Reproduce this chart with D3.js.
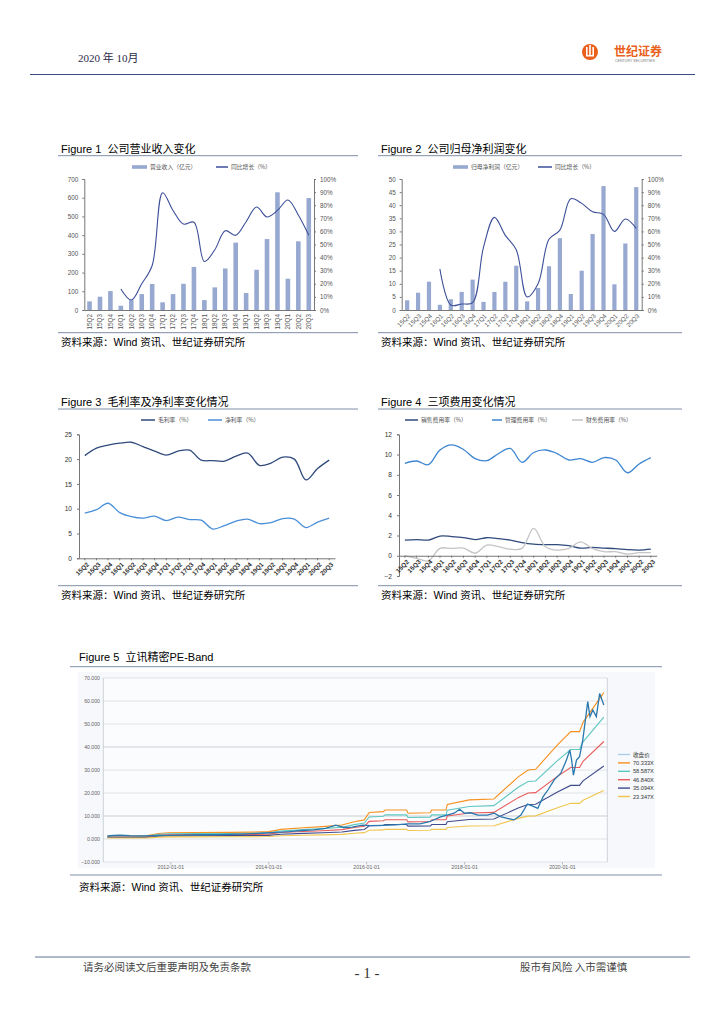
<!DOCTYPE html>
<html><head><meta charset="utf-8">
<script src="https://cdn.jsdelivr.net/npm/d3@7"></script>
<style>
body{margin:0;background:#fff;}
svg{display:block;}
text{white-space:pre;}
</style></head>
<body>
<svg id="page" width="724" height="1024"></svg>
<script>
// ---------------- DATA ----------------
const quarters = ["15Q2","15Q3","15Q4","16Q1","16Q2","16Q3","16Q4","17Q1","17Q2","17Q3","17Q4","18Q1","18Q2","18Q3","18Q4","19Q1","19Q2","19Q3","19Q4","20Q1","20Q2","20Q3"];
const revenue = [46,71,101,23,52,85,139,41,85,140,230,53,121,222,360,91,215,379,629,167,367,598];
const revenueYoY = [null,null,null,16,7.6,20,34,89.5,76,65.6,67,37,46,60.5,57,67.4,78.6,71,76,84,72.5,57];
const netProfit = [3.7,6.6,10.8,2.0,4.1,6.9,11.6,3.1,6.9,10.8,16.9,3.3,8.4,16.7,27.4,6.1,15.0,29.0,47.3,9.8,25.4,46.9];
const netProfitYoY = [null,null,null,31.3,3.8,4.6,5.6,48,70.7,57,46,10,20,54,61,85,81.4,75,73,60,69.5,62.3];
const grossMargin = [20.7,22.2,22.8,23.2,23.4,22.5,21.6,20.8,21.6,21.8,19.8,19.7,19.6,20.6,21.2,18.75,19.2,20.4,20.0,15.8,18.1,19.8];
const netMargin = [9.1,9.8,11.1,9.2,8.4,8.1,8.5,7.6,8.3,7.8,7.7,5.9,6.6,7.5,7.9,7.0,7.2,8.0,7.9,6.2,7.3,8.1];
const salesExp = [1.55,1.6,1.55,1.95,1.9,1.8,1.6,1.78,1.7,1.55,1.3,1.15,1.1,1.1,1.0,0.76,0.82,0.76,0.7,0.6,0.56,0.65];
const adminExp = [9.13,9.36,9.0,10.45,10.95,10.5,9.6,9.4,10.1,10.6,9.23,10.2,10.45,10.1,9.46,9.6,9.23,9.7,9.46,8.2,9.07,9.7];
const finExp = [0,-0.25,-0.5,0.73,0.73,0.76,0.25,1.05,0.9,0.65,0.73,2.7,0.9,0.56,0.73,1.38,0.73,0.4,0.4,0.16,0.3,0.3];

const revTicks = [0,100,200,300,400,500,600,700];
const profitTicks = [0,5,10,15,20,25,30,35,40,45,50];
const pctTicks = [0,10,20,30,40,50,60,70,80,90,100];
const marginTicks = [0,5,10,15,20,25];
const expTicks = [-2,0,2,4,6,8,10,12];

// PE band
const priceDates = ["2010-09-15","2010-11-01","2010-12-20","2011-03-01","2011-06-01","2011-09-01","2011-12-01","2012-03-01","2012-06-01","2012-09-01","2012-12-01","2013-03-01","2013-06-01","2013-09-01","2013-12-01","2014-03-01","2014-06-01","2014-09-01","2014-12-01","2015-03-01","2015-05-15","2015-07-15","2015-09-15","2015-12-01","2016-02-01","2016-05-01","2016-08-01","2016-11-01","2017-02-01","2017-04-15","2017-07-01","2017-10-15","2017-11-25","2018-01-01","2018-02-15","2018-04-10","2018-06-20","2018-08-10","2018-09-25","2018-11-15","2019-01-05","2019-02-25","2019-04-15","2019-05-25","2019-07-01","2019-08-10","2019-09-15","2019-11-01","2019-12-20","2020-01-31","2020-02-25","2020-03-10","2020-03-23","2020-04-15","2020-05-08","2020-06-01","2020-07-08","2020-07-25","2020-08-15","2020-09-10","2020-10-05","2020-11-05"];
const priceValues = [1.3,1.6,1.7,1.5,1.4,1.45,1.6,1.7,1.8,1.85,1.9,2.0,2.1,2.3,2.6,2.9,3.2,3.7,4.0,4.6,6.0,5.0,5.2,6.0,5.8,5.9,6.1,6.6,6.6,7.5,9.5,11.2,12.9,11.2,11.4,10.4,10.4,11.2,9.7,9.0,8.3,10.4,15.2,14.3,13.3,18.4,21.3,25.7,28.6,34.3,38.7,34.3,27.8,34.3,35.8,43.0,59.7,53.2,56.1,53.2,63.3,58.3];
const epsDates = ["2010-09-15","2011-07-01","2011-10-01","2011-12-15","2012-07-01","2013-03-15","2013-09-15","2014-01-01","2014-04-01","2014-09-15","2015-02-05","2015-07-01","2015-10-01","2015-12-15","2016-01-20","2016-05-05","2016-05-18","2016-10-25","2016-11-05","2017-04-20","2017-05-01","2017-08-15","2017-08-25","2018-02-05","2018-08-08","2019-02-05","2019-04-20","2019-06-15","2019-11-25","2020-03-03","2020-05-08","2020-06-03","2020-11-05"];
const epsValues = [0.0185,0.0192,0.0341,0.0391,0.0405,0.0412,0.0427,0.0455,0.0597,0.0697,0.0768,0.0867,0.1066,0.1180,0.1635,0.1692,0.1791,0.1791,0.1592,0.1621,0.1791,0.1791,0.2133,0.2417,0.2474,0.3839,0.4265,0.4308,0.5815,0.6640,0.6640,0.7209,0.9050];
const peMultiples = [70.333,58.587,46.840,35.094,23.347];
const peLegend = ["收盘价","70.333X","58.587X","46.840X","35.094X","23.347X"];
const peYTicks = [-10,0,10,20,30,40,50,60,70];
const peXTicks = ["2012-01-01","2014-01-01","2016-01-01","2018-01-01","2020-01-01"];

// ---------------- STYLE ----------------
const SANS = "'Liberation Sans', Arial, 'Noto Sans CJK SC', sans-serif";
const CJK = "'Noto Sans CJK SC', sans-serif";
const SERIF = "'Liberation Serif', 'Noto Sans CJK SC', serif";
const BAR = "#98a9d1", LINE1 = "#3c4f98";
const NAVY = "#2f4a7c", LBLUE = "#4a8fd8", GREY = "#c4c4c4";
const bandColors = ["#f7901e","#5fc7c1","#e95b5b","#3f4b8c","#f0c64e"];
const priceColor = "#2a78ae", priceLegend = "#a9d0e4";

const svg = d3.select("#page");
function txt(x,y,s,o={}) {
  return svg.append("text").attr("x",x).attr("y",y).text(s)
    .attr("font-family",o.f||SANS).attr("font-size",o.s||10)
    .attr("fill",o.c||"#000").attr("text-anchor",o.a||"start")
    .attr("font-weight",o.w||"normal");
}
function hline(x1,x2,y,c,w){ svg.append("line").attr("x1",x1).attr("x2",x2).attr("y1",y).attr("y2",y).attr("stroke",c).attr("stroke-width",w); }

// ---------------- HEADER / FOOTER ----------------
txt(78,62,"2020 年 10月",{f:SERIF,s:11,c:"#2b2b4b"});
hline(30,695,74.5,"#3a4f82",1);
svg.append("circle").attr("cx",590).attr("cy",52).attr("r",8).attr("fill","#ea5f1a");
[[586,47,1.6,9],[589.2,45,1.6,11],[592.4,47,1.6,9]].forEach(r=>svg.append("rect").attr("x",r[0]).attr("y",r[1]).attr("width",r[2]).attr("height",r[3]).attr("fill","#fff"));
svg.append("rect").attr("x",586).attr("y",55).attr("width",8).attr("height",1.5).attr("fill","#fff");
txt(614,56,"世纪证券",{f:CJK,s:12,c:"#e8601c",w:"bold"});
txt(615,61.5,"CENTURY SECURITIES",{s:3.6,c:"#777"});

hline(35,690,957,"#3a4f82",0.8);
txt(83,971,"请务必阅读文后重要声明及免责条款",{f:CJK,s:10.5,c:"#444"});
txt(367,978,"- 1 -",{f:SERIF,s:15,c:"#333",a:"middle"});
txt(520,971,"股市有风险 入市需谨慎",{f:CJK,s:10.5,c:"#444"});

// ---------------- helpers ----------------
function frame(x0,x1,titleY,lineY,title,bottomY,srcY){
  txt(x0+1,titleY,title,{s:11});
  hline(x0-2,x1,lineY,"#7f8fa8",1);
  hline(x0-2,x1,bottomY,"#7f8fa8",1);
  txt(x0+1,srcY,"资料来源：Wind 资讯、世纪证券研究所",{s:10.5});
}
function legendBar(x,y,label){ svg.append("rect").attr("x",x).attr("y",y-1.8).attr("width",15).attr("height",3.6).attr("fill",BAR); txt(x+18,y+2,label,{f:CJK,s:5.8,c:"#555"}); }
function legendLine(x,y,w,c,label){ hline(x,x+w,y,c,1.5); txt(x+w+3,y+2,label,{f:CJK,s:5.8,c:"#555"}); }
function styleAxis(g){ g.select(".domain").attr("stroke","#777"); g.selectAll(".tick line").attr("stroke","#777"); g.selectAll("text").attr("font-family",SANS).attr("font-size",6.3).attr("fill","#555"); }

function barLine(o){
  const x = d3.scaleBand().domain(quarters).range([o.x0,o.x1]);
  const cx = q => x(q)+x.bandwidth()/2;
  const yL = d3.scaleLinear().domain([0,o.max]).range([o.yb,o.yt]);
  const yR = d3.scaleLinear().domain([0,100]).range([o.yb,o.yt]);
  const g = svg.append("g");
  g.selectAll("rect").data(o.bars).join("rect")
    .attr("x",(d,i)=>cx(quarters[i])-o.barW/2).attr("width",o.barW)
    .attr("y",d=>yL(d)).attr("height",d=>yL(0)-yL(d)).attr("fill",BAR);
  const ln = d3.line().defined(d=>d!=null).x((d,i)=>cx(quarters[i])).y(d=>yR(d)).curve(d3.curveCatmullRom.alpha(0.5));
  g.append("path").attr("d",ln(o.line)).attr("fill","none").attr("stroke",LINE1).attr("stroke-width",1.1);
  const al = svg.append("g").attr("transform",`translate(${o.x0},0)`).call(d3.axisLeft(yL).tickValues(o.ticks).tickSize(2).tickPadding(4));
  styleAxis(al);
  const ar = svg.append("g").attr("transform",`translate(${o.x1},0)`).call(d3.axisRight(yR).tickValues(pctTicks).tickSize(2).tickPadding(4).tickFormat(d=>d+"%"));
  styleAxis(ar);
  const ab = svg.append("g").attr("transform",`translate(0,${o.yb})`).call(d3.axisBottom(x).tickSize(0).tickSizeOuter(0));
  styleAxis(ab);
  if(o.rot===-90){
    ab.selectAll("text").attr("x",-4).attr("y",0).attr("dy","0.35em").attr("transform","rotate(-90)").attr("text-anchor","end");
  } else {
    ab.selectAll("text").attr("x",0).attr("y",0).attr("dy","0.35em").attr("transform","translate(2,5) rotate(-45)").attr("text-anchor","end");
  }
}

function lines(o){
  const x = d3.scaleBand().domain(quarters).range([o.x0,o.x1]);
  const cx = q => x(q)+x.bandwidth()/2;
  const y = d3.scaleLinear().domain(o.domain).range([o.yb,o.yt]);
  o.series.forEach(s=>{
    const ln = d3.line().x((d,i)=>cx(quarters[i])).y(d=>y(d)).curve(d3.curveCatmullRom.alpha(0.5));
    svg.append("path").attr("d",ln(s.data)).attr("fill","none").attr("stroke",s.color).attr("stroke-width",1.3);
  });
  const al = svg.append("g").attr("transform",`translate(${o.x0},0)`).call(d3.axisLeft(y).tickValues(o.ticks).tickSize(2).tickPadding(5));
  styleAxis(al);
  al.selectAll("text").attr("font-size",6.6).attr("fill","#333");
  const ab = svg.append("g").attr("transform",`translate(0,${y(0)})`).call(d3.axisBottom(x).tickSize(2).tickSizeOuter(0));
  styleAxis(ab);
  ab.selectAll("text").attr("x",0).attr("y",0).attr("dy","0.35em").attr("transform","translate(3,5) rotate(-45)").attr("text-anchor","end").attr("font-weight","bold").attr("fill","#333").attr("font-size",6.4);
}

// ---------------- FIGURE 1 ----------------
frame(60,358,152.5,155.7,"Figure 1  公司营业收入变化",332.7,346);
legendBar(132,167,"营业收入（亿元）");
legendLine(216,167,12,LINE1,"同比增长（%）");
barLine({x0:84.3,x1:314,yt:179,yb:310,max:700,ticks:revTicks,bars:revenue,line:revenueYoY,barW:4.6,rot:-90});

// ---------------- FIGURE 2 ----------------
frame(380,682,152.5,155.7,"Figure 2  公司归母净利润变化",332.7,346);
legendBar(453,167,"归母净利润（亿元）");
legendLine(538,167,14,LINE1,"同比增长（%）");
barLine({x0:401.7,x1:641.7,yt:179,yb:310,max:50,ticks:profitTicks,bars:netProfit,line:netProfitYoY,barW:4.2,rot:-45});

// ---------------- FIGURE 3 ----------------
frame(60,358,405.5,409,"Figure 3  毛利率及净利率变化情况",585.7,599);
legendLine(141,420,14,NAVY,"毛利率（%）");
legendLine(208,420,14,LBLUE,"净利率（%）");
lines({x0:79,x1:335,yt:434.3,yb:558.3,domain:[0,25],ticks:marginTicks,series:[{data:grossMargin,color:NAVY},{data:netMargin,color:LBLUE}]});

// ---------------- FIGURE 4 ----------------
frame(380,682,405.5,409,"Figure 4  三项费用变化情况",585.7,599);
legendLine(405,420,13,NAVY,"销售费用率（%）");
legendLine(492,420,10,"#3d85d0","管理费用率（%）");
legendLine(572,420,11,GREY,"财务费用率（%）");
lines({x0:399,x1:656.7,yt:434.3,yb:576,domain:[-2,12],ticks:expTicks,series:[{data:salesExp,color:NAVY},{data:adminExp,color:"#3d85d0"},{data:finExp,color:GREY}]});

// ---------------- FIGURE 5 ----------------
txt(79,661,"Figure 5  立讯精密PE-Band",{s:11});
hline(70,662,666.7,"#7f8fa8",1);
hline(70,662,875,"#7f8fa8",1);
txt(79,891,"资料来源：Wind 资讯、世纪证券研究所",{s:10.5});
svg.append("rect").attr("x",78).attr("y",671.7).attr("width",577).attr("height",196).attr("fill","#f6f8fb");
const parse = d3.timeParse("%Y-%m-%d");
const x5 = d3.scaleTime().domain([new Date(2010,7,15),new Date(2020,11,1)]).range([103.3,607.3]);
const y5 = d3.scaleLinear().domain([-10,70]).range([862,678]);
svg.append("rect").attr("x",103.3).attr("y",678).attr("width",504).attr("height",184).attr("fill","#fbfcfd");
peYTicks.forEach(v=>{
  hline(103.3,607.3,y5(v),(v===40||v===10)?"#bfc3ca":"#dadde3",0.8);
  txt(100,y5(v)+1.8,d3.format(".3f")(v),{s:5.2,c:"#666",a:"end"});
});
svg.append("line").attr("x1",103.3).attr("x2",103.3).attr("y1",678).attr("y2",862).attr("stroke","#c4c8cf").attr("stroke-width",0.8);
svg.append("line").attr("x1",607.3).attr("x2",607.3).attr("y1",678).attr("y2",862).attr("stroke","#c4c8cf").attr("stroke-width",0.8);
peXTicks.forEach(s=>{
  const xx = x5(parse(s));
  svg.append("line").attr("x1",xx).attr("x2",xx).attr("y1",862).attr("y2",864.5).attr("stroke","#999").attr("stroke-width",0.6);
  txt(xx,868.5,s,{s:5.2,c:"#666",a:"middle"});
});
const bandLine = d3.line().x(d=>x5(d[0])).y(d=>y5(d[1]));
peMultiples.forEach((m,k)=>{
  const data = epsDates.map((d,i)=>[parse(d), m*epsValues[i]]);
  svg.append("path").attr("d",bandLine(data)).attr("fill","none").attr("stroke",bandColors[k]).attr("stroke-width",1.1);
});
const priceData = priceDates.map((d,i)=>[parse(d),priceValues[i]]);
svg.append("path").attr("d",bandLine(priceData)).attr("fill","none").attr("stroke",priceColor).attr("stroke-width",1.3);
const legColors = [priceLegend].concat(bandColors);
peLegend.forEach((s,i)=>{
  const yy = 754.5 + i*8.4;
  hline(618,630,yy,legColors[i],1.4);
  txt(633,yy+2,s,{f:i===0?CJK:SANS,s:5.6,c:"#333"});
});
</script>
</body></html>
